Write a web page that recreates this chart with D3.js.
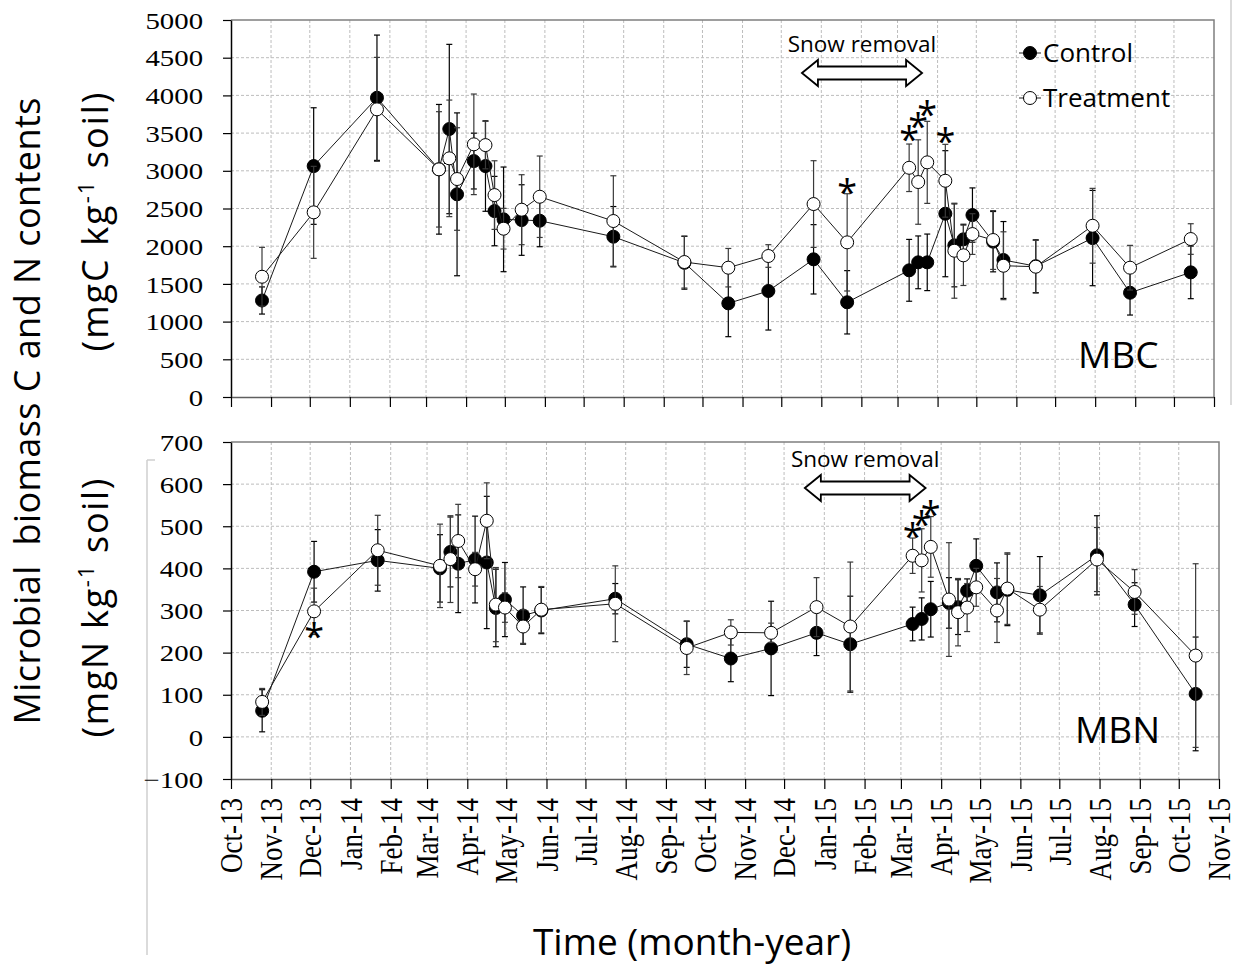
<!DOCTYPE html>
<html lang="en">
<head>
<meta charset="UTF-8">
<title>Microbial biomass C and N</title>
<script src="https://d3js.org/d3.v7.min.js"></script>
<style>
  body { margin: 0; background: #fff; }
  .serif { font-family: 'Liberation Serif', 'Times New Roman', serif; }
  .sans  { font-family: 'Open Sans', 'Noto Sans', sans-serif; }
</style>
</head>
<body>
<script>
const width  = 1239;
const height = 966;

// sampling dates (same for both panels)
const sampleDates = [
  "2013-10-25", "2013-12-04", "2014-01-22", "2014-03-11", "2014-03-19", "2014-03-25",
  "2014-04-07", "2014-04-16", "2014-04-23", "2014-04-30", "2014-05-14", "2014-05-28",
  "2014-07-24", "2014-09-17", "2014-10-21", "2014-11-21", "2014-12-26", "2015-01-21",
  "2015-03-10", "2015-03-17", "2015-03-24", "2015-04-07", "2015-04-14", "2015-04-21",
  "2015-04-28", "2015-05-14", "2015-05-22", "2015-06-16", "2015-07-30", "2015-08-28",
  "2015-10-14"
];

// MBC (mgC kg-1 soil)
const mbcControl      = [1280, 3063, 3969, 3020, 3554, 2688, 3129, 3063, 2466, 2356, 2347, 2338, 2126, 1780, 1242, 1406, 1826, 1256, 1680, 1786, 1786, 2431, 2011, 2091, 2413, 2060, 1817, 1735, 2108, 1383, 1653];
const mbcControlErr   = [ 180,  773,  831,  860, 1123, 1080,  370,  600,  460,  694,  468,  345,  400,  350,  442,  518,  460,  420,  410,  350,  375,  836,  550,  200,  360,  400,  510,  350,  632,  296,  349];
const mbcTreatment    = [1595, 2449, 3815, 3019, 3165, 2891, 3351, 3341, 2678, 2232, 2484, 2656, 2334, 1790, 1715, 1870, 2559, 2051, 3040, 2851, 3112, 2868, 1940, 1879, 2161, 2082, 1741, 1728, 2271, 1715, 2095];
const mbcTreatmentErr = [ 390,  610,  689,  765,  773,  680,  667,  315,  455,  270,  464,  540,  600,  345,  255,  150,  575,  645,  315,  560,  544,  483,  630,  400,  270,  390,  450,  350,  496,  296,  203];

// MBN (mgN kg-1 soil)
const mbnControl      = [ 62, 392, 419, 400, 439, 411, 421, 414, 306, 326, 288, 300, 328, 220, 186, 210, 247, 220, 268, 280, 303, 318, 308, 347, 406, 343, 349, 336, 431, 314, 102];
const mbnControlErr   = [ 50,  72,  73,  80,  83, 116, 103, 157,  92,  88,  68,  55,  36,  55,  55, 112,  54, 114,  40,  50,  66,  60,  65,  28,  64,  70,  85,  92,  94,  52, 135];
const mbnTreatment    = [ 83, 298, 443, 406, 422, 465, 398, 513, 314, 307, 262, 302, 316, 211, 248, 247, 308, 262, 430, 419, 451, 326, 296, 307, 355, 300, 352, 302, 421, 344, 193];
const mbnTreatmentErr = [ 32,  55,  83,  99, 103,  87,  40,  90,  88,  35,  40,  55,  90,  63,  30,  23,  70, 153,  42,  75,  72, 135,  80,  57,  45,  76,  85,  55,  76,  53, 218];

// significance marks: [sample index, value where the star sits]
const mbcStars = [[17, 2840], [18, 3540], [19, 3715], [20, 3875], [21, 3515]];
const mbnStars = [[1, 262], [18, 499], [19, 527], [20, 551]];

const snowPeriod = ["2014-12-17", "2015-03-20"];
const axisStart = "2013-10-01";
const axisEnd   = "2015-11-01";

const parseDate = d3.timeParse("%Y-%m-%d");
const dates  = sampleDates.map(parseDate);
const xStart = parseDate(axisStart), xEnd = parseDate(axisEnd);
const months = d3.timeMonth.range(xStart, d3.timeDay.offset(xEnd, 1));
const fmtMonth = d3.timeFormat("%b-%y");

const svg = d3.select("body").append("svg")
    .attr("width", width).attr("height", height)
    .style("display", "block");

// faint frame remnants of the original figure
svg.append("line").attr("x1", 1231).attr("x2", 1231).attr("y1", 0).attr("y2", 405)
    .attr("stroke", "#cfcfcf").attr("stroke-width", 1.5);
svg.append("line").attr("x1", 147).attr("x2", 147).attr("y1", 460).attr("y2", 955)
    .attr("stroke", "#cfcfcf").attr("stroke-width", 1.5);
svg.append("line").attr("x1", 147).attr("x2", 155).attr("y1", 460).attr("y2", 460)
    .attr("stroke", "#cfcfcf").attr("stroke-width", 1.5);

const panels = [
  { top: 20, bottom: 397, left: 231, right: 1214, domain: [0, 5000], step: 500,
    control: mbcControl, controlErr: mbcControlErr, treatment: mbcTreatment, treatmentErr: mbcTreatmentErr,
    stars: mbcStars, name: "MBC", nameX: 1078, nameY: 368, snowTextY: 52, snowY: 73,
    legend: true, labels: false },
  { top: 442, bottom: 779, left: 231, right: 1219, domain: [-100, 700], step: 100,
    control: mbnControl, controlErr: mbnControlErr, treatment: mbnTreatment, treatmentErr: mbnTreatmentErr,
    stars: mbnStars, name: "MBN", nameX: 1075, nameY: 743, snowTextY: 467, snowY: 488,
    legend: false, labels: true }
];

panels.forEach(drawPanel);

function drawPanel(p) {
  const x = d3.scaleTime().domain([xStart, xEnd]).range([p.left, p.right]);
  const y = d3.scaleLinear().domain(p.domain).range([p.bottom, p.top]);
  const yTicks = d3.range(p.domain[0], p.domain[1] + 1, p.step);

  const g = svg.append("g");

  // grid
  g.selectAll(".hgrid").data(yTicks.slice(1, -1)).enter().append("line")
      .attr("x1", p.left).attr("x2", p.right)
      .attr("y1", d => y(d)).attr("y2", d => y(d))
      .attr("stroke", "#bdbdbd").attr("stroke-dasharray", "3,2");
  g.selectAll(".vgrid").data(months.slice(1, -1)).enter().append("line")
      .attr("x1", d => x(d)).attr("x2", d => x(d))
      .attr("y1", p.top).attr("y2", p.bottom)
      .attr("stroke", "#bdbdbd").attr("stroke-dasharray", "3,2");

  // frame top / right
  g.append("path")
      .attr("d", `M${p.left},${p.top}H${p.right}V${p.bottom}`)
      .attr("fill", "none").attr("stroke", "#7f7f7f").attr("stroke-width", 1.5);

  // y axis
  const ya = g.append("g").attr("transform", `translate(${p.left},0)`)
      .call(d3.axisLeft(y).tickValues(yTicks).tickSize(8).tickSizeOuter(0)
              .tickFormat(d3.format("d")));
  ya.select(".domain").attr("stroke", "#000").attr("stroke-width", 1.5);
  ya.selectAll("line").attr("stroke", "#000").attr("stroke-width", 1.2);
  ya.selectAll("text")
      .attr("class", "serif")
      .attr("font-size", 24)
      .attr("fill", "#000")
      .attr("x", -23.3).attr("dy", "0.34em")
      .attr("transform", "scale(1.2,1)");

  // x axis
  const xa = g.append("g").attr("transform", `translate(0,${p.bottom})`)
      .call(d3.axisBottom(x).tickValues(months).tickSize(10).tickSizeOuter(0)
              .tickFormat(p.labels ? fmtMonth : ""));
  xa.select(".domain").attr("stroke", "#5f5f5f").attr("stroke-width", 1.5);
  xa.selectAll("line").attr("stroke", "#000").attr("stroke-width", 1.2);
  xa.selectAll("text")
      .attr("class", "serif")
      .attr("font-size", 27)
      .attr("fill", "#000")
      .attr("x", 0).attr("y", 0).attr("dy", "0.33em")
      .attr("text-anchor", "end")
      .attr("transform", "translate(0,19) scale(1.2,1) rotate(-90)");

  // series: control first, treatment on top
  drawSeries(g, x, y, p.control, p.controlErr, "#000", "#000");
  drawSeries(g, x, y, p.treatment, p.treatmentErr, "#fff", "#3a3a3a");

  // stars
  g.selectAll(".star").data(p.stars).enter().append("text")
      .attr("class", "sans")
      .attr("font-size", 36)
      .attr("text-anchor", "middle")
      .attr("x", d => x(dates[d[0]]))
      .attr("y", d => y(d[1]) + 22)
      .text("*");

  // snow removal
  const sx0 = x(parseDate(snowPeriod[0])), sx1 = x(parseDate(snowPeriod[1]));
  const cy = p.snowY, hl = 16, hh = 13, sh = 6.5;
  g.append("text").attr("class", "sans")
      .attr("font-size", 22.5).attr("text-anchor", "middle")
      .attr("x", (sx0 + sx1) / 2).attr("y", p.snowTextY)
      .text("Snow removal");
  g.append("polygon")
      .attr("points", [
        [sx0, cy], [sx0 + hl, cy - hh], [sx0 + hl, cy - sh], [sx1 - hl, cy - sh], [sx1 - hl, cy - hh],
        [sx1, cy], [sx1 - hl, cy + hh], [sx1 - hl, cy + sh], [sx0 + hl, cy + sh], [sx0 + hl, cy + hh]
      ].map(d => d.join(",")).join(" "))
      .attr("fill", "#fff").attr("stroke", "#000").attr("stroke-width", 1.8);

  // panel name
  g.append("text").attr("class", "sans")
      .attr("font-size", 37)
      .attr("x", p.nameX).attr("y", p.nameY)
      .text(p.name);

  if (p.legend) {
    const items = [["Control", "#000", 53, 62], ["Treatment", "#fff", 98, 107]];
    items.forEach(it => {
      g.append("line").attr("x1", 1019).attr("x2", 1041)
          .attr("y1", it[2]).attr("y2", it[2]).attr("stroke", "#222");
      g.append("circle").attr("cx", 1030).attr("cy", it[2]).attr("r", 6.5)
          .attr("fill", it[1]).attr("stroke", "#000");
      g.append("text").attr("class", "sans").attr("font-size", 26)
          .attr("x", 1043).attr("y", it[3]).text(it[0]);
    });
  }
}

function drawSeries(g, x, y, values, errs, fill, errColor) {
  const pts = values.map((v, i) => ({ date: dates[i], v: v, e: errs[i] }));
  const line = d3.line().x(d => x(d.date)).y(d => y(d.v));

  g.append("path").attr("d", line(pts))
      .attr("fill", "none").attr("stroke", "#1a1a1a").attr("stroke-width", 1);

  const eb = g.append("g").attr("stroke", errColor).attr("stroke-width", 1.2);
  pts.forEach(d => {
    const cx = x(d.date), y0 = y(d.v - d.e), y1 = y(d.v + d.e);
    eb.append("line").attr("x1", cx).attr("x2", cx).attr("y1", y0).attr("y2", y1);
    eb.append("line").attr("x1", cx - 3).attr("x2", cx + 3).attr("y1", y0).attr("y2", y0);
    eb.append("line").attr("x1", cx - 3).attr("x2", cx + 3).attr("y1", y1).attr("y2", y1);
  });

  g.selectAll(null).data(pts).enter().append("circle")
      .attr("cx", d => x(d.date)).attr("cy", d => y(d.v)).attr("r", 6.5)
      .attr("fill", fill).attr("stroke", "#000").attr("stroke-width", 1);
}

// axis titles
const yTitle = svg.append("g").attr("class", "sans").attr("fill", "#000");
yTitle.append("text")
    .attr("font-size", 36)
    .attr("text-anchor", "middle")
    .attr("transform", "translate(40,411) rotate(-90)")
    .attr("textLength", 627)
    .text("Microbial\u00a0\u00a0biomass C and N contents");

function unitLabel(cy, el) {
  const t = yTitle.append("text")
      .attr("font-size", 36)
      .attr("text-anchor", "middle")
      .attr("transform", `translate(108,${cy}) rotate(-90)`)
      .attr("textLength", 259);
  t.append("tspan").text(`(mg${el} kg`);
  t.append("tspan").attr("font-size", 22).attr("dy", -14).text("-1");
  t.append("tspan").attr("dy", 14).text(" soil)");
}
unitLabel(222, "C");
unitLabel(608, "N");

svg.append("text").attr("class", "sans")
    .attr("font-size", 37)
    .attr("text-anchor", "middle")
    .attr("x", 692).attr("y", 955)
    .text("Time (month-year)");
</script>
</body>
</html>
